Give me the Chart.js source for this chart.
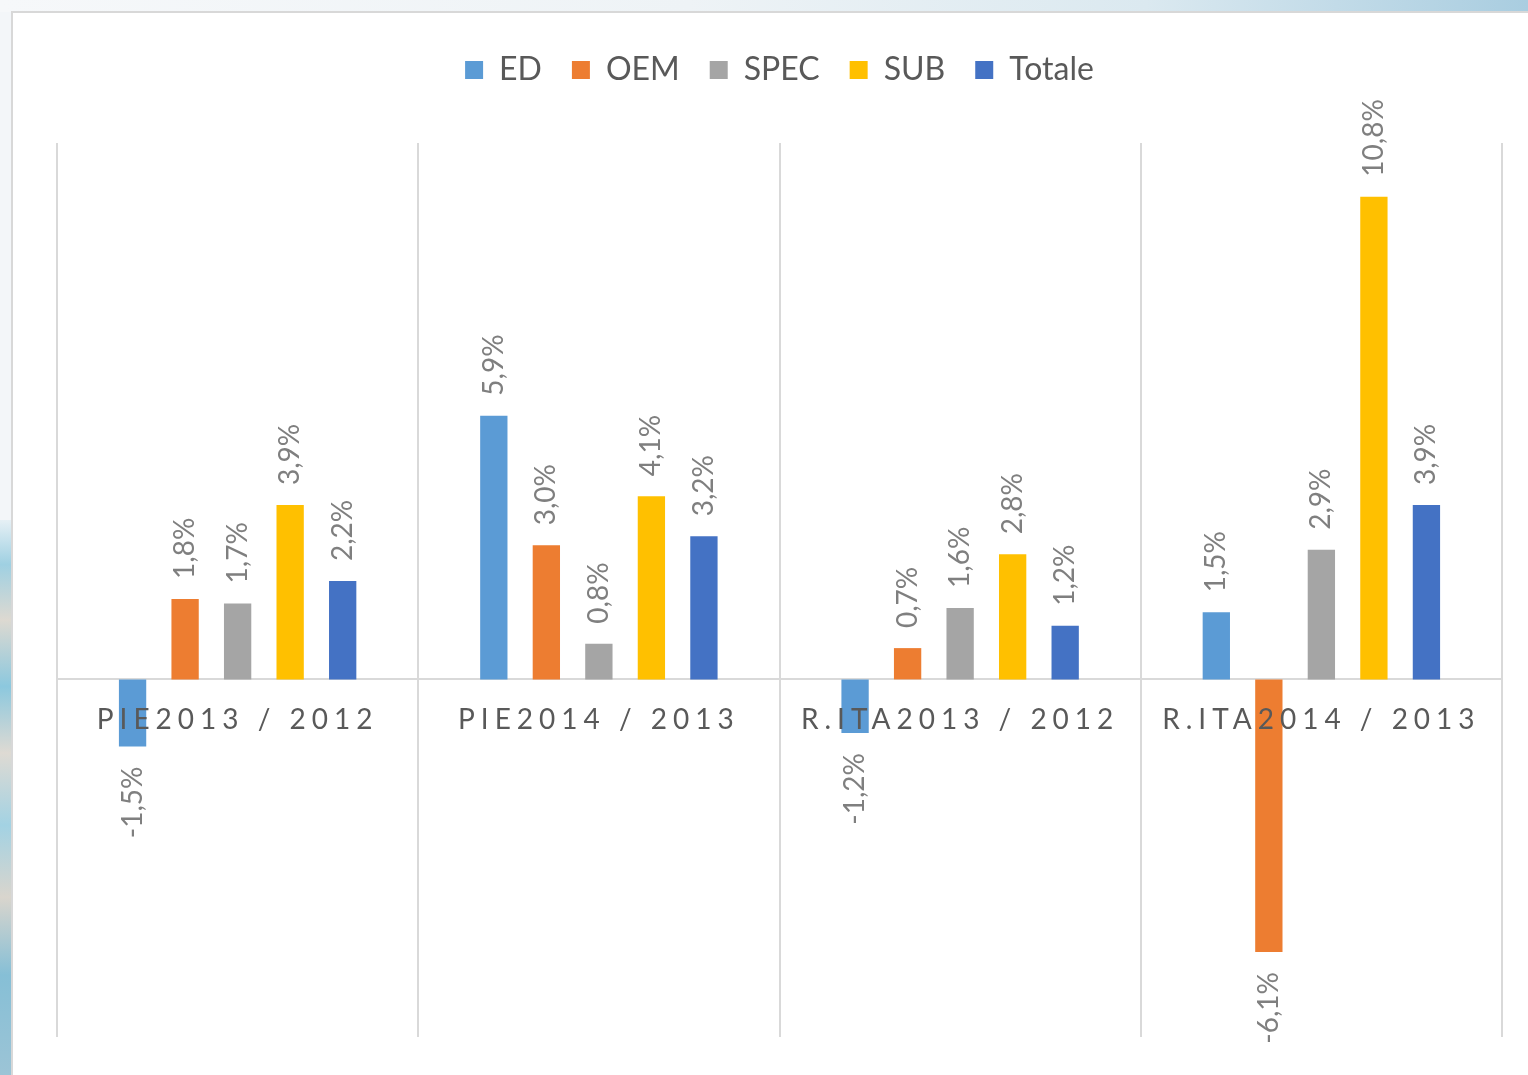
<!DOCTYPE html>
<html>
<head>
<meta charset="utf-8">
<script src="https://cdn.jsdelivr.net/npm/chart.js@4"></script>
<style>
  html, body { margin: 0; padding: 0; }
  body { width: 1528px; height: 1075px; overflow: hidden; position: relative; background: #f3f6f9; }
  .topStrip { position: absolute; left: 0; top: 0; width: 1528px; height: 12px;
    background: linear-gradient(to right, #f6f8fa 0%, #eef3f6 45%, #dbe9f0 75%, #a9cde0 100%); }
  .leftStrip { position: absolute; left: 0; top: 520px; width: 12px; height: 555px;
    background: linear-gradient(to bottom, #e6f0f5 0%, #9fd0e2 8%, #ddd9d1 18%, #8cc8de 30%, #dedad3 42%, #a3d2e3 55%, #d9d5cd 68%, #86bfd6 82%, #9cc4d6 100%); }
  .panel { position: absolute; left: 11px; top: 11px; width: 1530px; height: 1080px; background: #fff;
    border-left: 2px solid #d8d8d8; border-top: 2px solid #d8d8d8; }
  #chart { position: absolute; left: 0; top: 0; }
</style>
</head>
<body>
<div class="topStrip"></div>
<div class="leftStrip"></div>
<div class="panel"></div>
<canvas id="chart" width="1528" height="1075"></canvas>
<script>
// categorie (asse X)
const categories = ['PIE2013 / 2012', 'PIE2014 / 2013', 'R.ITA2013 / 2012', 'R.ITA2014 / 2013'];
// serie (valori in %)
const seriesNames = ['ED', 'OEM', 'SPEC', 'SUB', 'Totale'];
const edValues = [-1.5, 5.9, -1.2, 1.5];
const oemValues = [1.8, 3.0, 0.7, -6.1];
const specValues = [1.7, 0.8, 1.6, 2.9];
const subValues = [3.9, 4.1, 2.8, 10.8];
const totaleValues = [2.2, 3.2, 1.2, 3.9];
const seriesColors = ['#5B9BD5', '#ED7D31', '#A5A5A5', '#FFC000', '#4472C4'];

const allValues = [edValues, oemValues, specValues, subValues, totaleValues];

// etichette dei valori ruotate
const valueLabels = {
    id: 'valueLabels',
    beforeInit(chart) {
        // spazio sotto la legenda
        const origFit = chart.legend.fit;
        chart.legend.fit = function () {
            origFit.call(this);
            this.height = 119;
        };
    },
    afterDatasetsDraw(chart) {
        const ctx = chart.ctx;
        ctx.save();
        ctx.font = '28px Lato';
        ctx.fillStyle = '#7f7f7f';
        ctx.textBaseline = 'middle';
        chart.data.datasets.forEach((ds, i) => {
            const meta = chart.getDatasetMeta(i);
            meta.data.forEach((bar, j) => {
                const v = ds.data[j];
                const txt = v.toFixed(1).replace('.', ',') + '%';
                ctx.save();
                if (v >= 0) {
                    ctx.translate(bar.x, bar.y - 20);
                    ctx.rotate(-Math.PI / 2);
                    ctx.textAlign = 'left';
                } else {
                    ctx.translate(bar.x, bar.y + 20);
                    ctx.rotate(-Math.PI / 2);
                    ctx.textAlign = 'right';
                }
                ctx.fillText(txt, 0, 0);
                ctx.restore();
            });
        });
        ctx.restore();
        // spaziatura lettere per le categorie
        ctx.letterSpacing = '6px';
    },
    afterDraw(chart) {
        chart.ctx.letterSpacing = '0px';
    }
};

const data = {
    labels: categories,
    datasets: seriesNames.map((name, i) => ({
        label: name,
        data: allValues[i],
        backgroundColor: seriesColors[i],
        borderWidth: 0,
        categoryPercentage: 0.727,
        barPercentage: 0.52
    }))
};

const config = {
    type: 'bar',
    data: data,
    options: {
        responsive: false,
        animation: false,
        layout: {
            padding: { left: 57, right: 26, top: 24, bottom: 38 }
        },
        plugins: {
            legend: {
                position: 'top',
                labels: {
                    boxWidth: 18,
                    boxHeight: 18,
                    padding: 30,
                    color: '#595959',
                    font: { family: 'Lato', size: 32 }
                }
            },
            tooltip: { enabled: false }
        },
        scales: {
            x: {
                position: { y: 0 },
                grid: {
                    offset: true,
                    drawTicks: false,
                    color: '#d9d9d9',
                    lineWidth: 2
                },
                border: { color: '#d9d9d9', width: 2 },
                ticks: {
                    z: 1,
                    padding: 24,
                    autoSkip: false,
                    maxRotation: 0,
                    color: '#595959',
                    font: { family: 'Lato', size: 28 }
                }
            },
            y: {
                display: false,
                min: -8,
                max: 12
            }
        }
    },
    plugins: [valueLabels]
};

const chart = new Chart(document.getElementById('chart'), config);
</script>
</body>
</html>
